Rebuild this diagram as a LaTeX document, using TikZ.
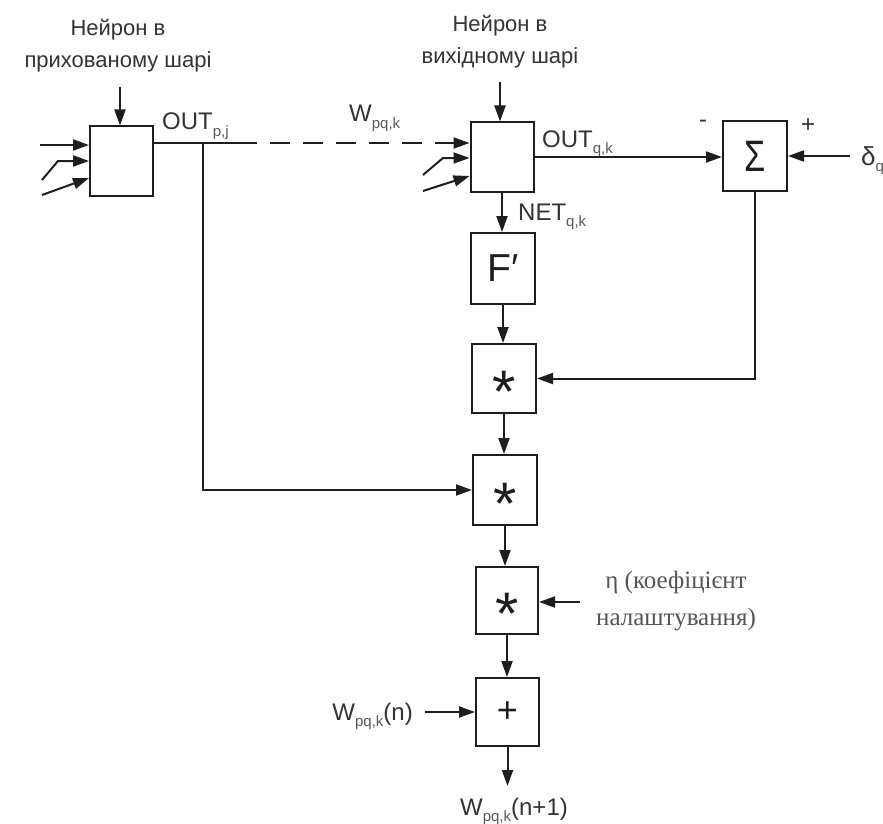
\documentclass[tikz,border=0pt]{standalone}
\usepackage{fontspec}
\setmainfont{Liberation Sans}
\newfontfamily\serifcyr{Liberation Serif}
\usetikzlibrary{arrows.meta,calc}
\definecolor{linec}{HTML}{1E1E1E}
\definecolor{txtc}{HTML}{333333}
\definecolor{subc}{HTML}{5A5A5A}
\definecolor{etac}{HTML}{555555}
\newcommand{\lsub}[1]{\raisebox{-6pt}{\fontsize{15}{15}\selectfont\color{subc}#1}}
\begin{document}
\begin{tikzpicture}[x=1pt,y=-1pt,
  blk/.style={draw=linec,line width=2pt,minimum width=63pt,minimum height=69pt,inner sep=0pt,fill=white},
  wire/.style={draw=linec,line width=2pt},
  arr/.style={wire,-{Triangle[length=16pt,width=11pt]}},
  lbl/.style={text=txtc,font=\fontsize{24}{28}\selectfont,inner sep=0pt},
  ttl/.style={text=txtc,font=\fontsize{22}{32}\selectfont,align=center,inner sep=0pt},
  sym/.style={text=linec,inner sep=0pt},
  etal/.style={text=etac,font=\serifcyr\fontsize{25}{37}\selectfont,align=center,inner sep=0pt}]
\useasboundingbox[fill=white] (0,0) rectangle (883,824);

% boxes
\node[blk] (hid) at (121.5,161) {};
\node[blk] (out) at (502,157) {};
\node[blk,minimum width=64pt] (sig) at (755,156) {};
\node[blk,minimum width=64pt,minimum height=71pt] (fp) at (503,268.5) {};
\node[blk,minimum width=64pt] (m1) at (504,378.5) {};
\node[blk,minimum width=64pt,minimum height=70pt] (m2) at (505,490) {};
\node[blk,minimum width=62pt,minimum height=67pt] (m3) at (507,600.5) {};
\node[blk,minimum height=68pt] (pl) at (507.5,712) {};

% box symbols
\node[sym,font=\fontsize{44}{44}\selectfont] (sigt) at (sig.center) {\scalebox{0.78}[1]{Σ}};
\node[sym,font=\fontsize{39}{39}\selectfont] (fpt) at (fp.center) {F′};
\node[sym,font=\fontsize{60}{60}\selectfont,anchor=base] (m1t) at ([yshift=-34pt]m1.center) {*};
\node[sym,font=\fontsize{60}{60}\selectfont,anchor=base] (m2t) at ([yshift=-34pt]m2.center) {*};
\node[sym,font=\fontsize{60}{60}\selectfont,anchor=base] (m3t) at ([yshift=-34pt]m3.center) {*};
\node[sym,font=\fontsize{36}{36}\selectfont] (plt) at (pl.center) {+};

% titles
\node[ttl] (ttl1) at (118,46) {Нейрон в\\прихованому шарі};
\node[ttl] (ttl2) at (500,42) {Нейрон в\\вихідному шарі};

% hidden neuron inputs
\coordinate (hidtop) at (120,87);
\draw[arr] (hidtop) -- (hidtop |- hid.north);
\coordinate (ha1) at (40,145);
\draw[arr] (ha1) -- (ha1 -| hid.west);
\coordinate (ha2) at (42,180);
\coordinate (ha2b) at (58,161);
\draw[arr] (ha2) -- (ha2b) -- (ha2b -| hid.west);
\coordinate (ha3) at (42,195);
\draw[arr] (ha3) -- ([yshift=-17pt]hid.west);

% output neuron inputs
\coordinate (outtop) at (500,82);
\draw[arr] (outtop) -- (outtop |- out.north);
\coordinate (oa2) at (423,175);
\coordinate (oa2b) at (443,158);
\draw[arr] (oa2) -- (oa2b) -- (oa2b -| out.west);
\coordinate (oa3) at (423,191);
\draw[arr] (oa3) -- ([yshift=-19pt]out.west);

% OUT_pj line, junction, dashed link
\coordinate (hidE) at ([yshift=18pt]hid.east);
\coordinate (j) at (hidE -| 203,0);
\coordinate (dstart) at (hidE -| 237,0);
\draw[wire] (hidE) -- (dstart);
\draw[arr,dash pattern=on 20pt off 13pt] (dstart) -- (dstart -| out.west);
\draw[arr] (j) |- (m2.west);

% OUT_qk to sigma, delta
\draw[arr] (out.east) -- (out.east -| sig.west);
\coordinate (dl) at (850,156);
\draw[arr] (dl) -- (dl -| sig.east);
\draw[arr] (sig.south) |- (m1.east);

% vertical chain
\draw[arr] (out.south) -- (out.south |- fp.north);
\draw[arr] (fp.south) -- (fp.south |- m1.north);
\draw[arr] (m1.south) -- (m1.south |- m2.north);
\draw[arr] (m2.south) -- (m2.south |- m3.north);
\draw[arr] (m3.south) -- (m3.south |- pl.north);
\coordinate (wout) at (507.5,786);
\draw[arr] (pl.south) -- (wout);

% eta and W(n) inputs
\coordinate (eta) at (580,602);
\draw[arr] (eta) -- (eta -| m3.east);
\coordinate (wn) at (425,712);
\draw[arr] (wn) -- (wn -| pl.west);

% labels
\node[lbl,anchor=base west] (lout1) at (162,130) {OUT\lsub{p,j}};
\node[lbl,anchor=base west] (lw) at (349,122) {W\lsub{pq,k}};
\node[lbl,anchor=base west] (lout2) at (542,147) {OUT\lsub{q,k}};
\node[lbl,anchor=base west] (lnet) at (518,220) {NET\lsub{q,k}};
\node[lbl,anchor=center] (lminus) at (703,124) {-};
\node[lbl,anchor=center] (lplus) at (808,126) {+};
\node[lbl,anchor=base west,font=\fontsize{26}{28}\selectfont] (ldelta) at (861,165) {δ\lsub{q}};
\node[etal] (leta) at (676,601) {η (коефіцієнт\\налаштування)};
\node[lbl,anchor=base east] (lwn) at (413,720) {W\lsub{pq,k}(n)};
\node[lbl,anchor=base] (lwn1) at (514,815) {W\lsub{pq,k}(n+1)};
\end{tikzpicture}
\end{document}
